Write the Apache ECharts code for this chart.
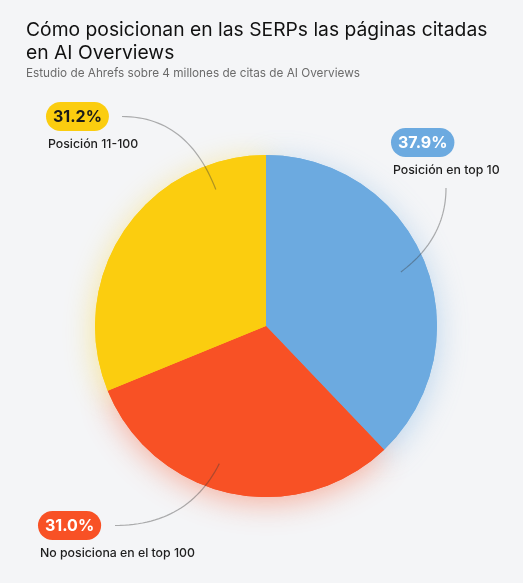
<!DOCTYPE html>
<html>
<head>
<meta charset="utf-8">
<script src="https://cdn.jsdelivr.net/npm/echarts@6/dist/echarts.min.js"></script>
<style>
html,body{margin:0;padding:0;background:#f4f5f7;}
#chart{width:523px;height:583px;}
</style>
</head>
<body>
<div id="chart"></div>
<script>
// ---- data ----
const categories = ['Posición en top 10', 'No posiciona en el top 100', 'Posición 11-100'];
const values = [37.9, 31.0, 31.2];
const valueLabels = ['37.9%', '31.0%', '31.2%'];
const colors = ['#6caae0', '#f85125', '#fbcd0f'];
const pillTextColors = ['#ffffff', '#ffffff', '#1a1a1a'];

// ---- layout (not data) ----
const CENTER = [266, 326];
const RADIUS = 171;
const labelBoxes = [            // top-left of each label block
  { x: 391, y: 128, lineFrom: 'bottom', dx: 55, gap: 5 },
  { x: 38,  y: 511, lineFrom: 'right', pillW: 67, gap: 10 },
  { x: 46,  y: 102, lineFrom: 'right', pillW: 65, gap: 11 }
];
const anchorFrac = [0.5, 0.56, 0.82];  // where the leader touches, inside each slice
const anchorR = 0.85;

const total = values.reduce((a, b) => a + b, 0);
const starts = [];
let acc = 0;
values.forEach(v => { starts.push(acc); acc += v; });

function hexA(hex, a) {
  const n = parseInt(hex.slice(1), 16);
  return 'rgba(' + (n >> 16) + ',' + ((n >> 8) & 255) + ',' + (n & 255) + ',' + a + ')';
}

function leaderPoints(i) {
  const box = labelBoxes[i];
  const deg = (starts[i] + values[i] * anchorFrac[i]) / total * 360;
  const rad = deg * Math.PI / 180;
  const p2 = [CENTER[0] + Math.sin(rad) * RADIUS * anchorR, CENTER[1] - Math.cos(rad) * RADIUS * anchorR];
  let p0, c;
  if (box.lineFrom === 'right') {
    p0 = [box.x + box.pillW + box.gap, box.y + 14.5];
    c = [p0[0] + 0.7 * (p2[0] - p0[0]), p0[1]];
  } else {
    p0 = [box.x + box.dx, box.y + 29 + 26 + box.gap];
    c = [p0[0], p0[1] + 0.6 * (p2[1] - p0[1])];
  }
  const pts = [];
  const N = 30;
  for (let k = 0; k <= N; k++) {
    const t = k / N, u = 1 - t;
    pts.push([u * u * p2[0] + 2 * u * t * c[0] + t * t * p0[0], u * u * p2[1] + 2 * u * t * c[1] + t * t * p0[1]]);
  }
  return pts;
}

const labelData = categories.map((name, i) => ({
  name: name,
  value: values[i],
  itemStyle: { color: 'rgba(0,0,0,0)' },
  label: {
    formatter: '{p|' + valueLabels[i] + '}\n{n|' + name + '}',
    rich: {
      p: {
        backgroundColor: colors[i], color: pillTextColors[i], borderRadius: 15,
        padding: [7, 7, 6, 7], fontSize: 16, fontWeight: 700, fontFamily: 'Inter'
      },
      n: { fontSize: 12.3, fontWeight: 500, color: '#1f1f1f', lineHeight: 26, fontFamily: 'Inter', padding: [0, 0, 0, 2] }
    }
  }
}));

const pieData = categories.map((name, i) => ({
  name: name,
  value: values[i],
  itemStyle: { color: colors[i] }
}));

const shadowData = categories.map((name, i) => ({
  name: name,
  value: values[i],
  itemStyle: { color: colors[i], shadowBlur: 30, shadowOffsetY: 6, shadowColor: hexA(colors[i], 0.42) }
}));

const chart = echarts.init(document.getElementById('chart'), null, { renderer: 'canvas' });
chart.setOption({
  backgroundColor: '#f4f5f7',
  animation: false,
  title: {
    text: 'Cómo posicionan en las SERPs las páginas citadas\nen AI Overviews',
    subtext: 'Estudio de Ahrefs sobre 4 millones de citas de AI Overviews',
    left: 21, top: 14, itemGap: 1,
    textStyle: { fontFamily: 'Inter', fontSize: 19.3, fontWeight: 400, color: '#111111', lineHeight: 23 },
    subtextStyle: { fontFamily: 'Inter', fontSize: 11.75, color: '#6b6b6b', lineHeight: 14 }
  },
  series: [
    {
      type: 'pie', silent: true, center: CENTER, radius: RADIUS, startAngle: 90, clockwise: true,
      label: { show: false }, labelLine: { show: false }, data: shadowData, z: 1
    },
    {
      type: 'pie', silent: true, center: CENTER, radius: RADIUS, startAngle: 90, clockwise: true,
      label: { show: false }, labelLine: { show: false }, data: pieData, z: 2
    },
    {
      type: 'pie', silent: true, center: CENTER, radius: RADIUS, startAngle: 90, clockwise: true,
      avoidLabelOverlap: false, z: 3,
      label: { show: true, position: 'outside' },
      labelLine: { show: true, length: 10, length2: 10, smooth: 0, lineStyle: { color: 'rgba(60,60,60,0.4)', width: 1.2 } },
      labelLayout: function (params) {
        const i = params.dataIndex;
        return {
          x: labelBoxes[i].x, y: labelBoxes[i].y, align: 'left', verticalAlign: 'top',
          labelLinePoints: leaderPoints(i)
        };
      },
      data: labelData
    }
  ]
});
</script>
</body>
</html>
